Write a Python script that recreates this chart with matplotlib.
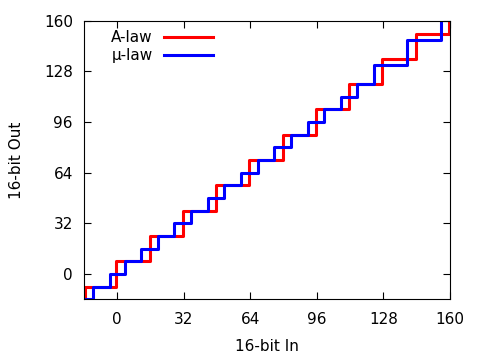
import matplotlib
matplotlib.use("Agg")
import matplotlib.pyplot as plt

# Pontos de quebra (x onde o nivel comeca) e niveis de saida.
alaw_x = [-16, -15.6, -0.5, 15.5, 31.5, 47.5, 63.5, 79.5, 95.5, 111.5,
          127.5, 143.5, 159.5, 160]
alaw_y = [-24, -8, 8, 24, 40, 56, 72, 88, 104, 120, 136, 152, 168, 168]

ulaw_x = [-16, -11.6, -3.4, 3.5, 11.5, 19.5, 27.5, 35.5, 43.5, 51.5, 59.5,
          67.5, 75.5, 83.5, 91.5, 99.5, 107.5, 115.5, 123.5, 139.5, 155.5, 160]
ulaw_y = [-16, -8, 0, 8, 16, 24, 32, 40, 48, 56, 64, 72, 80, 88, 96, 104,
          112, 120, 132, 148, 164, 164]

ticks = [0, 32, 64, 96, 128, 160]

RED = "#FF0000"
BLUE = "#0000FF"

plt.rcParams.update({
    "font.family": "DejaVu Sans",
    "font.size": 11,
    "axes.linewidth": 0.8,
})

fig = plt.figure(figsize=(4.8, 3.6), dpi=100)
ax = fig.add_axes([0.175, 0.169, 0.7625, 0.773])

ax.step(alaw_x, alaw_y, where="post", color=RED, lw=2.2, label="A-law")
ax.step(ulaw_x, ulaw_y, where="post", color=BLUE, lw=2.2, label="\u03bc-law")

ax.set_xlim(-16, 160)
ax.set_ylim(-16, 160)
ax.set_xticks(ticks)
ax.set_yticks(ticks)
ax.tick_params(direction="in", length=5, width=0.8, top=True, right=True,
               labelsize=11, color="black")
ax.tick_params(axis="x", pad=9)
ax.tick_params(axis="y", pad=8)
ax.set_xlabel("16-bit In", fontsize=11, labelpad=9)
ax.set_ylabel("16-bit Out", fontsize=11, labelpad=14)

ax.legend(loc="upper right", bbox_to_anchor=(0.352, 0.966), frameon=False,
          markerfirst=False, handlelength=3.2, handletextpad=0.72,
          labelspacing=0.2, borderpad=0, borderaxespad=0, fontsize=11)

fig.savefig("out.png", dpi=100)
